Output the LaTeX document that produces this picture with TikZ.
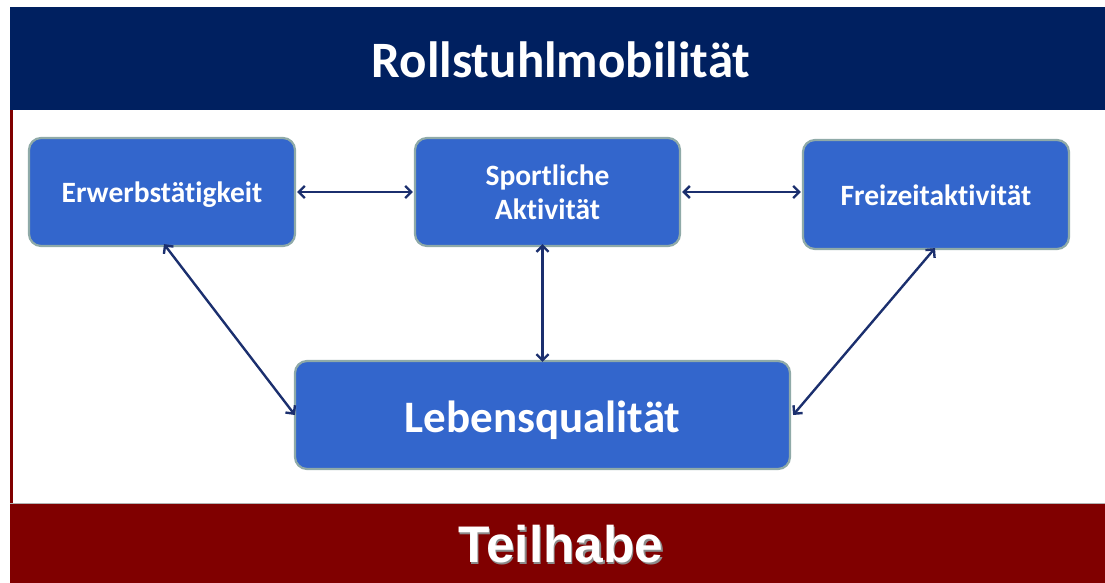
\documentclass[tikz,border=0pt]{standalone}
\usepackage{fontspec}
\setmainfont{Carlito}[Ligatures=NoCommon]
\newfontfamily\arialfont{Liberation Sans}
\usetikzlibrary{arrows.meta}
\definecolor{navy}{HTML}{002060}
\definecolor{darkred}{HTML}{800000}
\definecolor{boxblue}{HTML}{3366CC}
\definecolor{boxedge}{HTML}{8FAAA8}
\definecolor{arrowcol}{HTML}{1B2F6E}
\tikzset{
  bluebox/.style={draw=boxedge, line width=2.2pt, fill=boxblue, rounded corners=12pt,
    text=white, font=\bfseries, align=center, inner sep=0pt},
  link/.style={draw=arrowcol, line width=2.4pt, {Straight Barb[length=6pt,width=12pt]}-{Straight Barb[length=6pt,width=12pt]}}
}
\newcommand{\lowerby}[2]{\raisebox{-#1}[\height][\depth]{#2}}
\begin{document}
\begin{tikzpicture}[x=1pt,y=-1pt]
\useasboundingbox (0,0) rectangle (1105,583);
% banners
\fill[navy] (10,7) rectangle (1105,110);
\fill[darkred] (10,110) rectangle (12.5,503);
\fill[darkred] (10,503) rectangle (1105,583);
\draw[gray!60, line width=0.6pt] (10,503) -- (1105,503);
\node[text=white, font=\bfseries\fontsize{51}{56}\selectfont] (title) at (561,60) {Rollstuhlmobilität};
\node[text=white, font=\arialfont\bfseries\fontsize{51.5}{56}\selectfont] (bottom) at (561,545)
  {\makebox[0pt][l]{\hspace{1.5pt}\raisebox{-1.5pt}{\color{black!45}Teilhabe}}Teilhabe};
% boxes
\node[bluebox, minimum width=266pt, minimum height=108pt, font=\bfseries\fontsize{29.5}{35}\selectfont] (erw) at (162,192) {\lowerby{3pt}{Erwerbstätigkeit}};
\node[bluebox, minimum width=265pt, minimum height=108pt, font=\bfseries\fontsize{29.5}{34}\selectfont] (sport) at (547.5,192) {Sportliche\\Aktivität};
\node[bluebox, minimum width=266pt, minimum height=109pt, font=\bfseries\fontsize{29.5}{35}\selectfont] (frei) at (936,194.5) {\lowerby{1pt}{Freizeitaktivität}};
\node[bluebox, minimum width=495pt, minimum height=108pt, font=\bfseries\fontsize{45}{50}\selectfont] (leb) at (542.5,415) {\lowerby{5pt}{Lebensqualität}};
% connectors
\draw[link] ([xshift=1pt]erw.east) -- ([xshift=-1pt]sport.west);
\draw[link] ([xshift=1pt]sport.east) -- ([xshift=-1pt]frei.west |- sport.east);
\draw[link] ([xshift=2pt,yshift=3pt]erw.south) -- ([xshift=1pt]leb.west);
\draw[link] ([xshift=-5pt,yshift=3pt]sport.south) -- ([yshift=-2pt]leb.north);
\draw[link] ([xshift=-1pt,yshift=2pt]frei.south) -- ([xshift=2pt]leb.east);
\end{tikzpicture}
\end{document}
